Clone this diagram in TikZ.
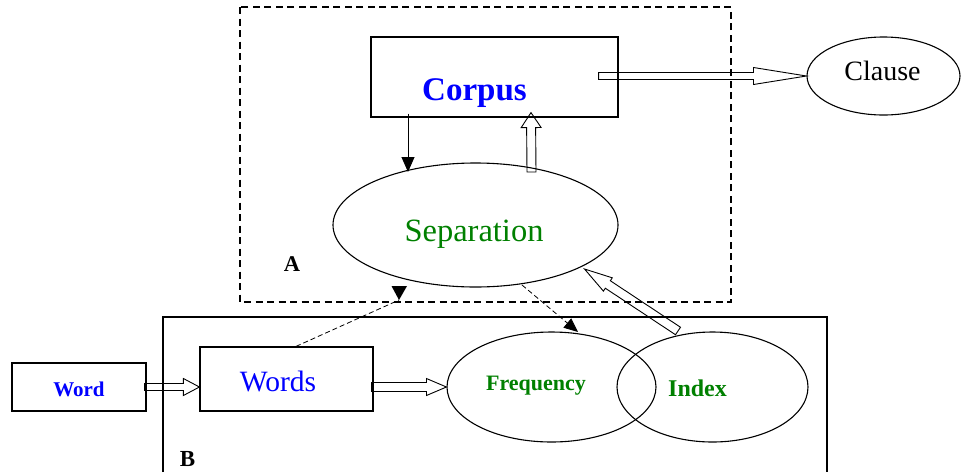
\documentclass[tikz,border=0pt]{standalone}
\usepackage{fontspec}
\setmainfont{Liberation Serif}
\usetikzlibrary{arrows.meta,calc,shapes.geometric}
\definecolor{tblue}{RGB}{0,0,255}
\definecolor{tgreen}{RGB}{0,128,0}
\pgfdeclarelayer{background}
\pgfsetlayers{background,main}
\newcommand\blockarrow[5]{%
  \path (#1) coordinate (ba-s) (#2) coordinate (ba-e);
  \path ($(ba-e)!#5!(ba-s)$) coordinate (ba-h);
  \draw[harrow] ($(ba-s)!#3!90:(ba-e)$) -- ($(ba-h)!#3!90:(ba-e)$) -- ($(ba-h)!#4!90:(ba-e)$)
    -- (ba-e) -- ($(ba-h)!#4!-90:(ba-e)$) -- ($(ba-h)!#3!-90:(ba-e)$) -- ($(ba-s)!#3!-90:(ba-e)$) -- cycle;
}
\begin{document}
\begin{tikzpicture}[x=1pt,y=-1pt,
  rbox/.style={draw,rectangle,line width=1.2pt,inner sep=0pt},
  ell/.style={draw,ellipse,line width=1.1pt,inner sep=0pt},
  txt/.style={anchor=base,inner sep=0pt},
  harrow/.style={draw,fill=white,line width=0.9pt,line join=miter},
  conn/.style={line width=0.9pt},
  dconn/.style={line width=0.8pt,dash pattern=on 5pt off 3pt},
  frameA/.style={line width=2pt,dash pattern=on 7pt off 4.5pt},
  frameB/.style={line width=1.2pt}]
\useasboundingbox (0,0) rectangle (969,472);
% frames
\draw[frameA] (240,7) rectangle (731,302);
\draw[frameB] (163,472) |- (827,317) -- (827,472);
% shapes
\node[rbox,minimum width=247pt,minimum height=80pt] (corpus) at (494.5,77) {};
\node[ell,minimum width=153pt,minimum height=78pt] (clause) at (883.5,76) {};
\node[ell,minimum width=285pt,minimum height=124pt] (sep) at (475.5,225) {};
\node[rbox,minimum width=134pt,minimum height=48pt] (word) at (79,387) {};
\node[rbox,minimum width=173pt,minimum height=64pt] (words) at (286.5,379) {};
\node[ell,minimum width=209pt,minimum height=110pt] (freq) at (551.5,387) {};
\node[ell,minimum width=191pt,minimum height=110pt] (index) at (712.5,387) {};
% texts
\node[txt,text=tblue,font=\fontsize{33}{36}\bfseries\selectfont] (corpustxt) at (474.5,100) {Corpus};
\node[txt,font=\fontsize{28}{32}\selectfont] (clausetxt) at (882.5,80.7) {Clause};
\node[txt,text=tgreen,font=\fontsize{32.5}{36}\selectfont] (septxt) at (474,241.7) {Separation};
\node[txt,text=tblue,font=\fontsize{21}{24}\bfseries\selectfont] (wordtxt) at (79,396.7) {Word};
\node[txt,text=tblue,font=\fontsize{29.5}{32}\selectfont] (wordstxt) at (278,391.7) {Words};
\node[txt,text=tgreen,font=\fontsize{22}{25}\bfseries\selectfont] (freqtxt) at (536,390.7) {Frequency};
\node[txt,text=tgreen,font=\fontsize{24}{27}\bfseries\selectfont] (indextxt) at (697.5,396) {Index};
\node[txt,font=\fontsize{22.5}{25}\bfseries\selectfont] (labA) at (292,271.7) {A};
\node[txt,font=\fontsize{23}{26}\bfseries\selectfont] (labB) at (187.5,466.7) {B};
% hollow arrows
\begin{pgfonlayer}{background}
\blockarrow{[xshift=-20pt]corpus.east |- clause.west}{clause.west}{3.5pt}{8.5pt}{53pt}
\blockarrow{$(sep.center)+(56,-53)$}{$(corpus.south)+(36.5,-5)$}{4.5pt}{10pt}{15pt}
\blockarrow{$(index.center)+(-34.5,-56)$}{$(sep.center)+(109,44)$}{4.5pt}{8pt}{28pt}
\blockarrow{[xshift=-2pt]word.east}{words.west |- word.east}{3.5pt}{8.5pt}{16pt}
\blockarrow{[xshift=-2pt]words.east |- freq.west}{freq.west}{4.5pt}{8.5pt}{20pt}
\end{pgfonlayer}
% thin arrows
\draw[conn,-{Triangle[width=13pt,length=15pt]}] ($(corpus.south)+(-86.5,-4)$) -- ($(sep.center)+(-67.5,-53)$);
\draw[dconn,-{Triangle[width=12pt,length=14pt]}] ($(sep.center)+(46.5,60)$) -- ($(freq.center)+(26.5,-55)$);
\coordinate (dtip) at ($(sep.center)+(-76.5,75)$);
\draw[dconn] ($(words.north)+(9.5,0)$) -- (dtip);
\fill (dtip) -- ++(-7.5,-14) -- ++(15.5,0) -- cycle;
\end{tikzpicture}
\end{document}
